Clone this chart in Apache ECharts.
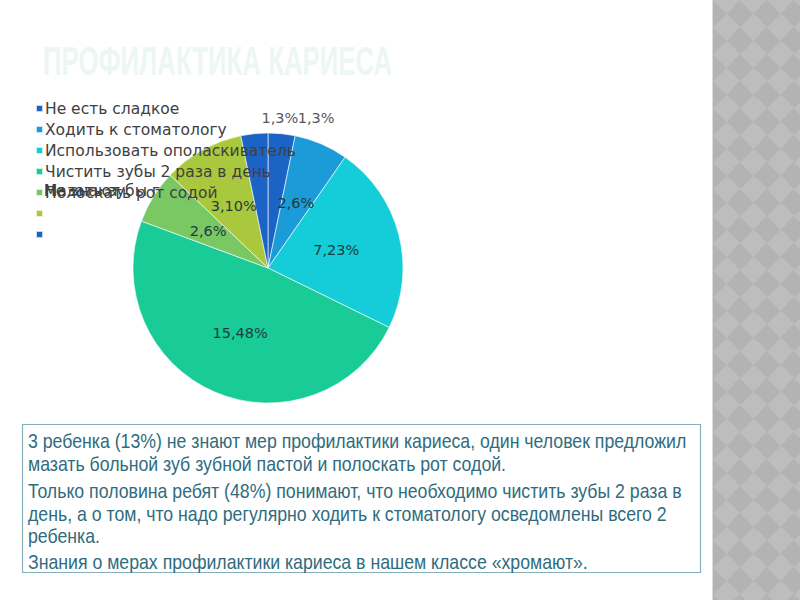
<!DOCTYPE html>
<html>
<head>
<meta charset="utf-8">
<script src="https://cdn.jsdelivr.net/npm/echarts@6/dist/echarts.min.js"></script>
<style>
  html, body { margin: 0; padding: 0; background: #ffffff; }
  #wrap { position: relative; width: 800px; height: 600px; overflow: hidden; }
  #stripe {
    position: absolute; left: 712px; top: 0; width: 88px; height: 600px;
    background-color: #bababa;
    background-image: repeating-conic-gradient(from 45deg, #b3b3b3 0 25%, #bdbdbd 0 50%);
    background-size: 27px 27px;
    border-left: 1px solid #dcdcdc;
  }
  #chart { position: absolute; left: 0; top: 0; width: 800px; height: 600px; }
</style>
</head>
<body>
<div id="wrap">
  <div id="stripe"></div>
  <div id="chart"></div>
</div>
<script>
// ---- data ----
var categories = [
  'Не есть сладкое',
  'Ходить к стоматологу',
  'Использовать ополаскиватель',
  'Чистить зубы 2 раза в день',
  'Полоскать рот содой',
  ' ',
  '  '
];
var counts = [1, 2, 7, 15, 2, 3, 1];
var overlappedLegendTexts = ['Мазать зубы пастой', 'Не знают'];
var titleText = 'ПРОФИЛАКТИКА КАРИЕСА';
var noteParagraphs = [
  '3 ребенка (13%) не знают мер профилактики кариеса, один человек предложил\nмазать больной зуб зубной пастой и полоскать рот содой.',
  'Только половина ребят (48%) понимают, что необходимо чистить зубы 2 раза в\nдень, а о том, что надо регулярно ходить к стоматологу осведомлены всего 2\nребенка.',
  'Знания о мерах профилактики кариеса в нашем классе «хромают».'
];

var colors = ['#1c63c6', '#1b9bd8', '#14cdd8', '#19cc97', '#79c864', '#a9c83d', '#1c63c6'];
var total = counts.reduce(function (a, b) { return a + b; }, 0);

var pieData = categories.map(function (n, i) {
  var item = { name: n, value: counts[i], itemStyle: { color: colors[i] } };
  if (i === 0 || i === 6) {
    item.label = { position: 'outside', color: '#595959' };
  }
  return item;
});

var chart = echarts.init(document.getElementById('chart'), null, { renderer: 'svg' });

var textFont = '"Liberation Sans", sans-serif';
var legendFont = 'DejaVu Sans';

chart.setOption({
  backgroundColor: 'transparent',
  animation: false,
  legend: {
    orient: 'vertical',
    left: 35,
    top: 98,
    padding: 0,
    itemWidth: 7,
    itemHeight: 7,
    itemGap: 0,
    icon: 'rect',
    data: categories,
    selectedMode: false,
    textStyle: {
      fontFamily: legendFont,
      fontSize: 15.5,
      color: '#404040',
      lineHeight: 21,
      padding: [0, 0, 0, -3]
    }
  },
  series: [{
    type: 'pie',
    center: [268, 268],
    radius: 135,
    startAngle: 90,
    clockwise: true,
    avoidLabelOverlap: false,
    data: pieData,
    itemStyle: { borderColor: 'rgba(255,255,255,0.75)', borderWidth: 0.8 },
    label: {
      show: true,
      position: 'inside',
      fontFamily: legendFont,
      fontSize: 14.5,
      color: '#1f3c3c',
      formatter: function (p) {
        return p.value + ',' + Math.round(p.value / total * 100) + '%';
      }
    },
    labelLine: { show: false, length: 0, length2: 0 },
    labelLayout: function (p) {
      if (p.dataIndex === 0) return { dx: 11, dy: -16 };
      if (p.dataIndex === 6) return { dx: 49, dy: -16 };
      return {};
    },
    emphasis: { disabled: true }
  }],
  graphic: [
    {
      type: 'text', x: 43, y: 40, z: 1,
      scaleX: 0.63,
      style: {
        text: titleText,
        fontFamily: textFont,
        fontWeight: 'bold',
        fontSize: 41,
        fill: '#ecf7f3'
      }
    },
    {
      type: 'group', z: 10,
      children: overlappedLegendTexts.map(function (t) {
        return {
          type: 'text', x: 44, y: 191,
          style: {
            text: t, fontFamily: legendFont, fontSize: 15.5, fill: '#404040',
            verticalAlign: 'middle'
          }
        };
      })
    },
    {
      type: 'rect', z: 5,
      shape: { x: 22.5, y: 424.5, width: 678, height: 148 },
      style: { fill: '#ffffff', stroke: '#86aebb', lineWidth: 1.2 }
    },
    {
      type: 'text', z: 6, x: 28, y: 430, scaleX: 0.885,
      style: { text: noteParagraphs[0], fontFamily: textFont, fontSize: 20, lineHeight: 22.5, fill: '#2f6c7e' }
    },
    {
      type: 'text', z: 6, x: 28, y: 480, scaleX: 0.885,
      style: { text: noteParagraphs[1], fontFamily: textFont, fontSize: 20, lineHeight: 22.5, fill: '#2f6c7e' }
    },
    {
      type: 'text', z: 6, x: 28, y: 551, scaleX: 0.885,
      style: { text: noteParagraphs[2], fontFamily: textFont, fontSize: 20, lineHeight: 22.5, fill: '#2f6c7e' }
    }
  ]
});
</script>
</body>
</html>
